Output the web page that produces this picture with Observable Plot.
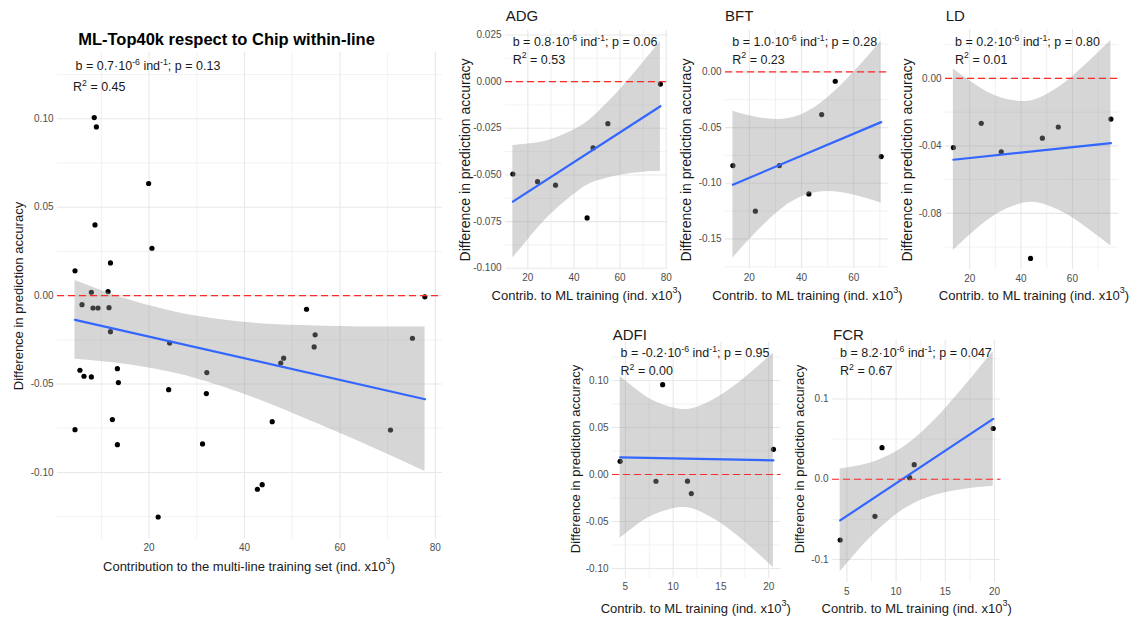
<!DOCTYPE html>
<html><head><meta charset="utf-8">
<script src="https://cdn.jsdelivr.net/npm/d3@7"></script>
<script src="https://cdn.jsdelivr.net/npm/@observablehq/plot@0.6"></script>
<style>
body{margin:0;background:#fff;}
#root{position:relative;width:1132px;height:621px;overflow:hidden;background:#fff;font-family:"Liberation Sans",Arial,sans-serif;}
#root svg{position:absolute;}
</style></head><body><div id="root"></div>
<script>
// ---------- data ----------
const mainX = [4.47,8.5,8.95,8.66,19.9,20.6,11.9,7.9,11.4,5.94,8.24,9.29,11.6,53.0,77.8,11.9,24.3,54.8,54.6,75.2,48.2,47.6,5.5,6.35,7.9,13.35,13.56,32.1,24.1,32.0,12.3,4.47,13.35,31.2,45.8,70.6,42.7,43.7,21.9];
const mainY = [0.0140,0.1007,0.0954,0.0400,0.0634,0.0268,0.0185,0.0019,0.0023,-0.0051,-0.0070,-0.0070,-0.0068,-0.0077,-0.0007,-0.0204,-0.0268,-0.0222,-0.0290,-0.0241,-0.0354,-0.0381,-0.0422,-0.0456,-0.0460,-0.0413,-0.0492,-0.0435,-0.0532,-0.0554,-0.0701,-0.0758,-0.0843,-0.0839,-0.0713,-0.0760,-0.1095,-0.1069,-0.1252];
const mainFitX = [4.47,77.84];
const mainFitY = [-0.0137,-0.0586];
const mainBandX = [4.47,9.85,15.45,20.34,24.53,30.12,39.9,50.38,64.36,77.84];
const mainBandHi = [0.0085,0.0031,-0.0020,-0.0059,-0.0087,-0.0117,-0.0151,-0.0168,-0.0177,-0.0177];
const mainBandLo = [-0.0360,-0.0372,-0.0389,-0.0411,-0.0434,-0.0472,-0.0558,-0.0669,-0.0829,-0.0995];

const adgX = [13.5,24.2,32.0,45.7,48.3,54.7,77.5];
const adgY = [-0.0495,-0.0536,-0.0555,-0.073,-0.0355,-0.0225,-0.0013];
const adgFitX = [13.5,77.5], adgFitY = [-0.0643,-0.0132];
const adgBandX = [13.5,20,30,42.3,50,60,70,77.5];
const adgBandHi = [-0.0342,-0.0334,-0.0311,-0.0243,-0.0169,-0.0043,0.0101,0.0216];
const adgBandLo = [-0.0944,-0.0848,-0.0711,-0.0583,-0.0533,-0.0501,-0.0485,-0.0480];

const bftX = [13.7,22.3,31.5,42.8,47.7,52.9,70.5];
const bftY = [-0.0841,-0.1251,-0.0841,-0.1096,-0.0383,-0.0084,-0.076];
const bftFitX = [13.7,70.5], bftFitY = [-0.1013,-0.0451];
const bftBandX = [13.7,20,30,40.2,50,60,70.5];
const bftBandHi = [-0.0353,-0.0394,-0.0427,-0.0382,-0.0233,-0.0004,0.0275];
const bftBandLo = [-0.1673,-0.1508,-0.1277,-0.1120,-0.1075,-0.1106,-0.1177];

const ldX = [13.65,24.5,32.3,43.7,48.3,54.5,75.0];
const ldY = [-0.041,-0.0266,-0.0435,-0.1067,-0.0354,-0.0288,-0.0241];
const ldFitX = [13.65,75], ldFitY = [-0.0482,-0.0384];
const ldBandX = [13.65,20,30,41.7,50,60,75];
const ldBandHi = [0.0056,-0.0014,-0.0103,-0.0137,-0.0096,0.0010,0.0225];
const ldBandLo = [-0.1020,-0.0930,-0.0809,-0.0737,-0.0752,-0.0826,-0.0993];

const adfiX = [4.45,8.9,8.2,11.5,11.9,20.5];
const adfiY = [0.014,0.0955,-0.0072,-0.0071,-0.0203,0.0268];
const adfiFitX = [4.45,20.5], adfiFitY = [0.0183,0.0150];
const adfiBandX = [4.45,6,8,10.9,13,15,17.5,20.5];
const adfiBandHi = [0.1043,0.0917,0.0781,0.0692,0.0733,0.0840,0.1027,0.129];
const adfiBandLo = [-0.0677,-0.0557,-0.0431,-0.0352,-0.0403,-0.0518,-0.0715,-0.099];

const fcrX = [4.32,7.85,8.57,11.38,11.84,19.87];
const fcrY = [-0.0756,-0.0461,0.0393,0.0020,0.0182,0.0632];
const fcrFitX = [4.32,19.87], fcrFitY = [-0.0512,0.0752];
const fcrBandX = [4.32,6,8,10.64,13,15,17.5,19.87];
const fcrBandHi = [0.0128,0.0163,0.0229,0.0390,0.0626,0.0879,0.1235,0.1591];
const fcrBandLo = [-0.1152,-0.0913,-0.0655,-0.0386,-0.0238,-0.0167,-0.0115,-0.0087];

// tick values
const mainXTicks = [20,40,60,80], mainXMinor = [10,30,50,70];
const mainYTicks = [-0.10,-0.05,0,0.05,0.10], mainYMinor = [-0.125,-0.075,-0.025,0.025,0.075,0.125];
const adgXTicks = [20,40,60,80], adgXMinor = [30,50,70];
const adgYTicks = [-0.1,-0.075,-0.05,-0.025,0,0.025], adgYMinor = [-0.0875,-0.0625,-0.0375,-0.0125,0.0125];
const bftXTicks = [20,40,60], bftXMinor = [30,50,70];
const bftYTicks = [-0.15,-0.10,-0.05,0], bftYMinor = [-0.175,-0.125,-0.075,-0.025,0.025];
const ldXTicks = [20,40,60], ldXMinor = [30,50,70];
const ldYTicks = [-0.08,-0.04,0], ldYMinor = [-0.10,-0.06,-0.02,0.02];
const adfiXTicks = [5,10,15,20], adfiXMinor = [7.5,12.5,17.5];
const adfiYTicks = [-0.10,-0.05,0,0.05,0.10], adfiYMinor = [-0.075,-0.025,0.025,0.075,0.125];
const fcrXTicks = [5,10,15,20], fcrXMinor = [7.5,12.5,17.5];
const fcrYTicks = [-0.1,0,0.1], fcrYMinor = [-0.05,0.05,0.15];

// ---------- drawing ----------
const root = document.getElementById("root");
const fmt = (dec) => (d) => (d < -1e-12 ? "-" : "") + Math.abs(d).toFixed(dec);
const zip = (xs, ys) => xs.map((x, i) => ({x, y: ys[i]}));
const zipBand = (xs, lo, hi) => xs.map((x, i) => ({x, lo: lo[i], hi: hi[i]}));

function panel(c) {
  const mL = 48, mR = 6, mT = 6, mB = 24;
  const w = c.px[1] - c.px[0], h = c.py[1] - c.py[0];
  const svg = Plot.plot({
    width: w + mL + mR, height: h + mT + mB,
    marginLeft: mL, marginRight: mR, marginTop: mT, marginBottom: mB,
    x: {domain: c.xd}, y: {domain: c.yd},
    style: {fontFamily: "Liberation Sans, Arial, sans-serif", color: "#4d4d4d", background: "transparent"},
    marks: [
      Plot.ruleX(c.xMinor, {stroke: "#ededed", strokeWidth: 0.7}),
      Plot.ruleY(c.yMinor, {stroke: "#ededed", strokeWidth: 0.7}),
      Plot.ruleX(c.xTicks, {stroke: "#e8e8e8", strokeWidth: 1.1}),
      Plot.ruleY(c.yTicks, {stroke: "#e8e8e8", strokeWidth: 1.1}),
      Plot.axisX(c.xTicks, {tickSize: 0, tickPadding: 5, fontSize: 10, label: null, tickFormat: c.xFmt || (d => String(d))}),
      Plot.axisY(c.yTicks, {tickSize: 0, tickPadding: 4, fontSize: 10, label: null, tickFormat: fmt(c.yDec)}),
      Plot.dot(zip(c.xs, c.ys), {x: "x", y: "y", r: 2.6, fill: "black", stroke: null}),
      Plot.areaY(zipBand(c.bx, c.blo, c.bhi), {x: "x", y1: "lo", y2: "hi", fill: "#999999", fillOpacity: 0.4, curve: "natural"}),
      Plot.line(zip(c.fx, c.fy), {x: "x", y: "y", stroke: "#3366FF", strokeWidth: 2.2}),
      Plot.ruleY([0], {stroke: "#ff2a2a", strokeWidth: 1.2, strokeDasharray: "7,4"})
    ]
  });
  svg.style.left = (c.px[0] - mL) + "px";
  svg.style.top = (c.py[0] - mT) + "px";
  root.appendChild(svg);
}

panel({px: [56.8, 441.8], py: [51.6, 538.2], xd: [0.8, 81.5], yd: [-0.1377, 0.1375],
  xs: mainX, ys: mainY, fx: mainFitX, fy: mainFitY, bx: mainBandX, blo: mainBandLo, bhi: mainBandHi,
  xTicks: mainXTicks, xMinor: mainXMinor, yTicks: mainYTicks, yMinor: mainYMinor, yDec: 2});
panel({px: [505.0, 667.3], py: [29.85, 268.0], xd: [10.3, 80.7], yd: [-0.1002, 0.0274],
  xs: adgX, ys: adgY, fx: adgFitX, fy: adgFitY, bx: adgBandX, blo: adgBandLo, bhi: adgBandHi,
  xTicks: adgXTicks, xMinor: adgXMinor, yTicks: adgYTicks, yMinor: adgYMinor, yDec: 3});
panel({px: [724.8, 887.9], py: [29.6, 268.1], xd: [10.86, 73.34], yd: [-0.177, 0.0372],
  xs: bftX, ys: bftY, fx: bftFitX, fy: bftFitY, bx: bftBandX, blo: bftBandLo, bhi: bftBandHi,
  xTicks: bftXTicks, xMinor: bftXMinor, yTicks: bftYTicks, yMinor: bftYMinor, yDec: 2});
panel({px: [944.8, 1118.1], py: [29.4, 269.3], xd: [10.58, 78.07], yd: [-0.1132, 0.029],
  xs: ldX, ys: ldY, fx: ldFitX, fy: ldFitY, bx: ldBandX, blo: ldBandLo, bhi: ldBandHi,
  xTicks: ldXTicks, xMinor: ldXMinor, yTicks: ldYTicks, yMinor: ldYMinor, yDec: 2});
panel({px: [612.1, 780.7], py: [342.3, 578.1], xd: [3.65, 21.3], yd: [-0.1104, 0.1404],
  xs: adfiX, ys: adfiY, fx: adfiFitX, fy: adfiFitY, bx: adfiBandX, blo: adfiBandLo, bhi: adfiBandHi,
  xTicks: adfiXTicks, xMinor: adfiXMinor, yTicks: adfiYTicks, yMinor: adfiYMinor, yDec: 2});
panel({px: [832.3, 1000.7], py: [339.5, 581.8], xd: [3.54, 20.65], yd: [-0.1289, 0.1728],
  xs: fcrX, ys: fcrY, fx: fcrFitX, fy: fcrFitY, bx: fcrBandX, blo: fcrBandLo, bhi: fcrBandHi,
  xTicks: fcrXTicks, xMinor: fcrXMinor, yTicks: fcrYTicks, yMinor: fcrYMinor, yDec: 1});

// ---------- text overlay ----------
const ov = d3.select(root).append("svg").attr("width", 1132).attr("height", 621)
  .style("left", "0px").style("top", "0px").style("pointer-events", "none")
  .style("font-family", "Liberation Sans, Arial, sans-serif");

function rich(x, y, parts, o = {}) {
  const fs = o.size || 12.5;
  const t = ov.append("text").attr("x", x).attr("y", y).attr("font-size", fs)
    .attr("fill", o.color || "#1a1a1a").attr("text-anchor", o.anchor || "start");
  if (o.weight) t.attr("font-weight", o.weight);
  if (o.rotate) t.attr("transform", `rotate(-90,${x},${y})`);
  if (o.baseline) t.attr("dominant-baseline", o.baseline);
  let up = false;
  for (const p of parts) {
    if (typeof p === "string") {
      const s = t.append("tspan").text(p);
      if (up) { s.attr("dy", fs * 0.42); up = false; }
    } else {
      const s = t.append("tspan").text(p.sup).attr("font-size", fs * 0.7);
      s.attr("dy", up ? 0 : -fs * 0.42); up = true;
    }
  }
  return t;
}

// main
rich(226.5, 45, ["ML-Top40k respect to Chip within-line"], {size: 16.5, weight: "bold", anchor: "middle", color: "#000"});
rich(75.5, 70, ["b = 0.7·10", {sup: "-6"}, " ind", {sup: "-1"}, "; p = 0.13"]);
rich(73, 91, ["R", {sup: "2"}, " = 0.45"]);
rich(17.5, 296, ["Difference in prediction accuracy"], {size: 13, anchor: "middle", rotate: true, baseline: "central"});
rich(249, 566, ["Contribution to the multi-line training set (ind. x10", {sup: "3"}, ")"], {size: 13, anchor: "middle", baseline: "central"});

// sub panels
const subs = [
  {title: "ADG", tx: 505.7, ty: 20.7, b: "0.8", p: "0.06", r2: "0.53", ax: 512.7, ay: 46, yt: [465, 160, 14], xt: [586.7, 295]},
  {title: "BFT", tx: 725, ty: 20.7, b: "1.0", p: "0.28", r2: "0.23", ax: 732.3, ay: 46, yt: [685.7, 160, 14], xt: [807.5, 295]},
  {title: "LD", tx: 945.7, ty: 20.7, b: "0.2", p: "0.80", r2: "0.01", ax: 955, ay: 46, yt: [907.3, 160, 14], xt: [1034, 295]},
  {title: "ADFI", tx: 612.7, ty: 340, b: "-0.2", p: "0.95", r2: "0.00", ax: 620.5, ay: 357.3, yt: [575, 459, 13], xt: [695.8, 608]},
  {title: "FCR", tx: 833, ty: 340, b: "8.2", p: "0.047", r2: "0.67", ax: 840, ay: 357.3, yt: [799, 459, 13], xt: [916.7, 608]}
];
for (const s of subs) {
  rich(s.tx, s.ty, [s.title], {size: 15});
  rich(s.ax, s.ay, ["b = " + s.b + "·10", {sup: "-6"}, " ind", {sup: "-1"}, "; p = " + s.p]);
  rich(s.ax, s.ay + 17.5, ["R", {sup: "2"}, " = " + s.r2]);
  rich(s.yt[0], s.yt[1], ["Difference in prediction accuracy"], {size: s.yt[2], anchor: "middle", rotate: true, baseline: "central"});
  rich(s.xt[0], s.xt[1], ["Contrib. to ML training (ind. x10", {sup: "3"}, ")"], {size: 13, anchor: "middle", baseline: "central"});
}
</script>
</body></html>
